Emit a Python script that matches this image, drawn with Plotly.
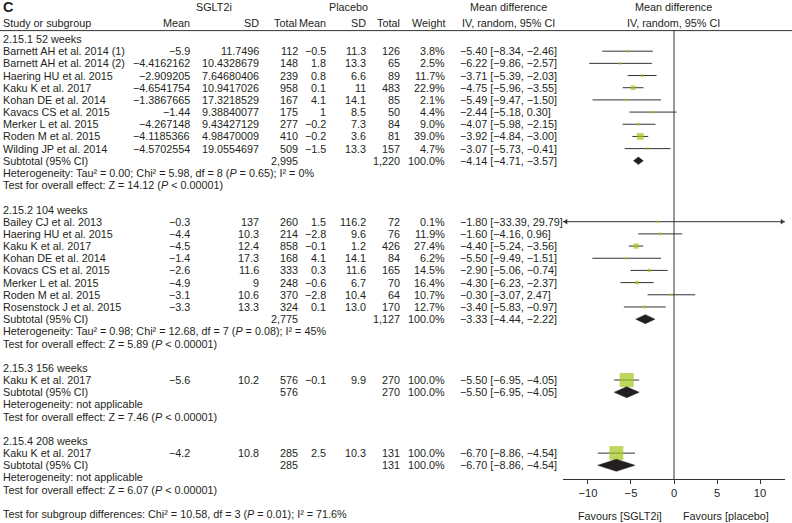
import plotly.graph_objects as go

# ---------------- data ----------------
subgroups = ["2.15.1 52 weeks", "2.15.2 104 weeks", "2.15.3 156 weeks", "2.15.4 208 weeks"]

studies = [
    ["Barnett AH et al. 2014 (1)", "Barnett AH et al. 2014 (2)", "Haering HU et al. 2015",
     "Kaku K et al. 2017", "Kohan DE et al. 2014", "Kavacs CS et al. 2015",
     "Merker L et al. 2015", "Roden M et al. 2015", "Wilding JP et al. 2014"],
    ["Bailey CJ et al. 2013", "Haering HU et al. 2015", "Kaku K et al. 2017",
     "Kohan DE et al. 2014", "Kovacs CS et al. 2015", "Merker L et al. 2015",
     "Roden M et al. 2015", "Rosenstock J et al. 2015"],
    ["Kaku K et al. 2017"],
    ["Kaku K et al. 2017"],
]
sglt_mean = [
    ["−5.9", "−4.4162162", "−2.909205", "−4.6541754", "−1.3867665", "−1.44", "−4.267148", "−4.1185366", "−4.5702554"],
    ["−0.3", "−4.4", "−4.5", "−1.4", "−2.6", "−4.9", "−3.1", "−3.3"],
    ["−5.6"],
    ["−4.2"],
]
sglt_sd = [
    ["11.7496", "10.4328679", "7.64680406", "10.9417026", "17.3218529", "9.38840077", "9.43427129", "4.98470009", "19.0554697"],
    ["137", "10.3", "12.4", "17.3", "11.6", "9", "10.6", "13.3"],
    ["10.2"],
    ["10.8"],
]
sglt_n = [
    ["112", "148", "239", "958", "167", "175", "277", "410", "509"],
    ["260", "214", "858", "168", "333", "248", "370", "324"],
    ["576"],
    ["285"],
]
pla_mean = [
    ["−0.5", "1.8", "0.8", "0.1", "4.1", "1", "−0.2", "−0.2", "−1.5"],
    ["1.5", "−2.8", "−0.1", "4.1", "0.3", "−0.6", "−2.8", "0.1"],
    ["−0.1"],
    ["2.5"],
]
pla_sd = [
    ["11.3", "13.3", "6.6", "11", "14.1", "8.5", "7.3", "3.6", "13.3"],
    ["116.2", "9.6", "1.2", "14.1", "11.6", "6.7", "10.4", "13.0"],
    ["9.9"],
    ["10.3"],
]
pla_n = [
    ["126", "65", "89", "483", "85", "50", "84", "81", "157"],
    ["72", "76", "426", "84", "165", "70", "64", "170"],
    ["270"],
    ["131"],
]
weight = [
    [3.8, 2.5, 11.7, 22.9, 2.1, 4.4, 9.0, 39.0, 4.7],
    [0.1, 11.9, 27.4, 6.2, 14.5, 16.4, 10.7, 12.7],
    [100.0],
    [100.0],
]
md = [
    [-5.40, -6.22, -3.71, -4.75, -5.49, -2.44, -4.07, -3.92, -3.07],
    [-1.80, -1.60, -4.40, -5.50, -2.90, -4.30, -0.30, -3.40],
    [-5.50],
    [-6.70],
]
md_lo = [
    [-8.34, -9.86, -5.39, -5.96, -9.47, -5.18, -5.98, -4.84, -5.73],
    [-33.39, -4.16, -5.24, -9.49, -5.06, -6.23, -3.07, -5.83],
    [-6.95],
    [-8.86],
]
md_hi = [
    [-2.46, -2.57, -2.03, -3.55, -1.50, 0.30, -2.15, -3.00, -0.41],
    [29.79, 0.96, -3.56, -1.51, -0.74, -2.37, 2.47, -0.97],
    [-4.05],
    [-4.54],
]
sub_n_sglt = ["2,995", "2,775", "576", "285"]
sub_n_pla = ["1,220", "1,127", "270", "131"]
sub_md = [-4.14, -3.33, -5.50, -6.70]
sub_lo = [-4.71, -4.44, -6.95, -8.86]
sub_hi = [-3.57, -2.22, -4.05, -4.54]
heterogeneity = [
    "Heterogeneity: Tau² = 0.00; Chi² = 5.98, df = 8 (<i>P</i> = 0.65); I² = 0%",
    "Heterogeneity: Tau² = 0.98; Chi² = 12.68, df = 7 (<i>P</i> = 0.08); I² = 45%",
    "Heterogeneity: not applicable",
    "Heterogeneity: not applicable",
]
overall = [
    "Test for overall effect: Z = 14.12 (<i>P</i> &lt; 0.00001)",
    "Test for overall effect: Z = 5.89 (<i>P</i> &lt; 0.00001)",
    "Test for overall effect: Z = 7.46 (<i>P</i> &lt; 0.00001)",
    "Test for overall effect: Z = 6.07 (<i>P</i> &lt; 0.00001)",
]
subgroup_test = "Test for subgroup differences: Chi² = 10.58, df = 3 (<i>P</i> = 0.01); I² = 71.6%"
tick_vals = [-10, -5, 0, 5, 10]
tick_text = ["−10", "−5", "0", "5", "10"]

# ---------------- style / layout ----------------
W, H = 792, 523
FONT = "Arial, Liberation Sans, sans-serif"
FS = 10.8
TXT = "#231f20"
GREEN = "#9fc41a"
LINE = "#333333"
XMIN, XMAX = -12.9, 12.9
X_LEFT_PX, X_RIGHT_PX = 563, 785
AXIS_Y = 479
Y0, DY = 39.0, 12.18
diamond_h = [7.5, 9, 11, 12]

# column positions (px) and anchors
COL_STUDY = 3
COL_SM, COL_SSD, COL_SN = 190, 258.5, 297.5
COL_PM, COL_PSD, COL_PN = 325.5, 366, 399.5
COL_W = 445
COL_CI = 460


def fmt(v):
    return f"{v:.2f}".replace("-", "−")


def ci_text(m, lo, hi):
    return f"{fmt(m)} [{fmt(lo)}, {fmt(hi)}]"


annotations = []


def txt(xpx, y, s, anchor="left", size=FS, weight="normal"):
    annotations.append(dict(
        x=xpx / W, xref="paper", y=y, yref="y", text=s, showarrow=False,
        xanchor=anchor, yanchor="middle", borderpad=0, borderwidth=0,
        font=dict(size=size, color=TXT, family=FONT, weight=weight)))


def rowy(k):
    return Y0 + DY * k


# header
txt(3, 7.3, "C", "left", size=14.5, weight="bold")
txt(213.5, 7.3, "SGLT2i", "center")
txt(348, 7.3, "Placebo", "center")
txt(508.5, 7.3, "Mean difference", "center")
txt(673.5, 7.3, "Mean difference", "center")
hdr_y = 23.3
txt(COL_STUDY, hdr_y, "Study or subgroup", "left")
txt(COL_SM, hdr_y, "Mean", "right")
txt(COL_SSD, hdr_y, "SD", "right")
txt(COL_SN - 0.5, hdr_y, "Total", "right")
txt(COL_PM + 0.5, hdr_y, "Mean", "right")
txt(COL_PSD, hdr_y, "SD", "right")
txt(COL_PN, hdr_y, "Total", "right")
txt(COL_W, hdr_y, "Weight", "right")
txt(508.5, hdr_y, "IV, random, 95% CI", "center")
txt(673.5, hdr_y, "IV, random, 95% CI", "center")

ci_x, ci_y = [], []
sq_x, sq_y, sq_s = [], [], []
arrows_l, arrows_r = [], []
diamonds = []

k = 0
for g in range(len(subgroups)):
    txt(COL_STUDY, rowy(k), subgroups[g])
    k += 1
    for i in range(len(studies[g])):
        y = rowy(k)
        txt(COL_STUDY, y, studies[g][i])
        txt(COL_SM, y, sglt_mean[g][i], "right")
        txt(COL_SSD, y, sglt_sd[g][i], "right")
        txt(COL_SN, y, sglt_n[g][i], "right")
        txt(COL_PM, y, pla_mean[g][i], "right")
        txt(COL_PSD, y, pla_sd[g][i], "right")
        txt(COL_PN, y, pla_n[g][i], "right")
        txt(COL_W, y, f"{weight[g][i]:.1f}%", "right")
        txt(COL_CI, y, ci_text(md[g][i], md_lo[g][i], md_hi[g][i]))
        lo, hi = md_lo[g][i], md_hi[g][i]
        ci_x += [max(lo, XMIN), min(hi, XMAX), None]
        ci_y += [y, y, None]
        if lo < XMIN:
            arrows_l.append((XMIN + 0.35, y))
        if hi > XMAX:
            arrows_r.append((XMAX - 0.35, y))
        sq_x.append(md[g][i])
        sq_y.append(y)
        sq_s.append(max(2.6, 14.0 * (weight[g][i] / 100.0) ** 0.76))
        k += 1
    y = rowy(k)
    txt(COL_STUDY, y, "Subtotal (95% CI)")
    txt(COL_SN, y, sub_n_sglt[g], "right")
    txt(COL_PN, y, sub_n_pla[g], "right")
    txt(COL_W, y, "100.0%", "right")
    txt(COL_CI, y, ci_text(sub_md[g], sub_lo[g], sub_hi[g]))
    h = diamond_h[g] / 2
    diamonds.append(([sub_lo[g], sub_md[g], sub_hi[g], sub_md[g], sub_lo[g]],
                     [y, y - h, y, y + h, y]))
    k += 1
    txt(COL_STUDY, rowy(k), heterogeneity[g])
    k += 1
    txt(COL_STUDY, rowy(k), overall[g])
    k += 2

txt(COL_STUDY, rowy(k), subgroup_test)

# favours labels
txt(662, 515.5, "Favours [SGLT2i]", "right")
txt(683, 515.5, "Favours [placebo]", "left")

fig = go.Figure()
fig.add_trace(go.Scatter(x=ci_x, y=ci_y, mode="lines",
                         line=dict(color=LINE, width=1), hoverinfo="skip", showlegend=False))
if arrows_l:
    fig.add_trace(go.Scatter(x=[a[0] for a in arrows_l], y=[a[1] for a in arrows_l], mode="markers",
                             marker=dict(symbol="triangle-left", size=5, color=LINE),
                             hoverinfo="skip", showlegend=False))
if arrows_r:
    fig.add_trace(go.Scatter(x=[a[0] for a in arrows_r], y=[a[1] for a in arrows_r], mode="markers",
                             marker=dict(symbol="triangle-right", size=5, color=LINE),
                             hoverinfo="skip", showlegend=False))
fig.add_trace(go.Scatter(x=sq_x, y=sq_y, mode="markers",
                         marker=dict(symbol="square", size=sq_s, color=GREEN, line=dict(width=0)),
                         hoverinfo="skip", showlegend=False))
for dx, dy in diamonds:
    fig.add_trace(go.Scatter(x=dx, y=dy, mode="lines", fill="toself", fillcolor=TXT,
                             line=dict(color=TXT, width=0.5), hoverinfo="skip", showlegend=False))

shapes = [
    dict(type="line", xref="paper", yref="y", x0=0, x1=1, y0=30.6, y1=30.6,
         line=dict(color=LINE, width=1)),
    dict(type="line", xref="x", yref="y", x0=0, x1=0, y0=30.6, y1=AXIS_Y,
         line=dict(color=LINE, width=1)),
]

fig.update_layout(
    width=W, height=H, autosize=False,
    margin=dict(l=0, r=0, t=0, b=0, pad=0),
    paper_bgcolor="white", plot_bgcolor="rgba(0,0,0,0)",
    showlegend=False,
    font=dict(family=FONT, size=FS, color=TXT),
    xaxis=dict(domain=[X_LEFT_PX / W, X_RIGHT_PX / W], range=[XMIN, XMAX],
               anchor="free", position=1 - AXIS_Y / H,
               showline=True, linecolor=LINE, linewidth=1,
               ticks="outside", ticklen=4, tickcolor=LINE, tickwidth=1,
               tickvals=tick_vals, ticktext=tick_text,
               tickfont=dict(size=11.2, color=TXT, family=FONT),
               showgrid=False, zeroline=False, fixedrange=True),
    yaxis=dict(domain=[0, 1], range=[H, 0], visible=False, showgrid=False,
               zeroline=False, fixedrange=True),
    annotations=annotations,
    shapes=shapes,
)

fig.write_html("out.html", config={"displayModeBar": False},
               post_script="document.body.style.margin='0';")
